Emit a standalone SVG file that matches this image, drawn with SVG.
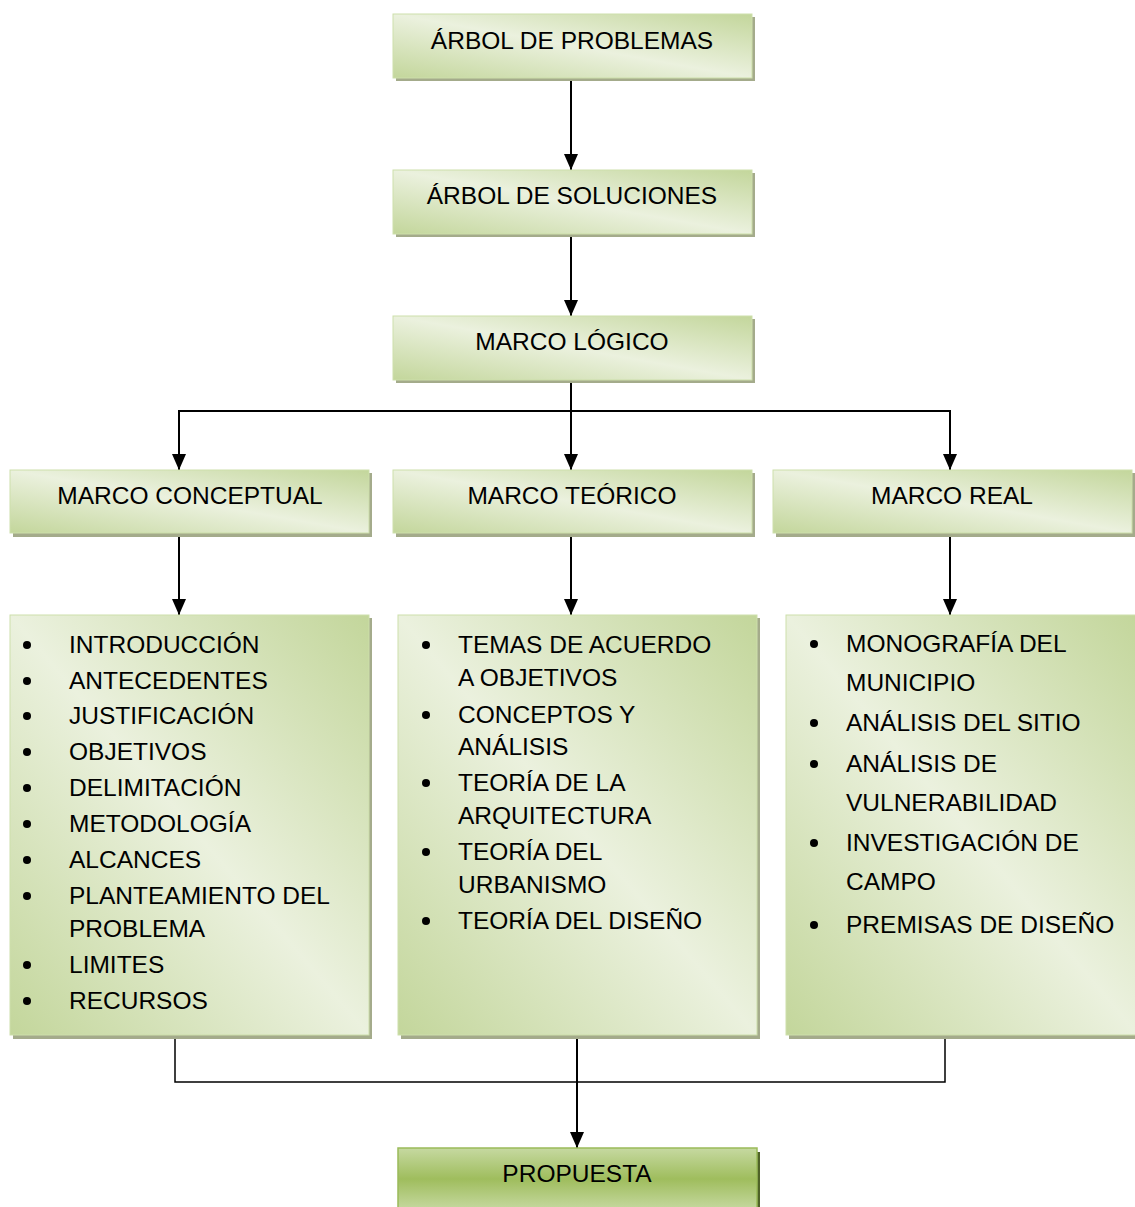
<svg xmlns="http://www.w3.org/2000/svg" width="1135" height="1207" viewBox="0 0 1135 1207">
<defs>
<linearGradient id="g" x1="0" y1="1" x2="1" y2="0">
<stop offset="0" stop-color="#c3d69b"/>
<stop offset="0.5" stop-color="#ebf1de"/>
<stop offset="1" stop-color="#c3d69b"/>
</linearGradient>
<linearGradient id="gp" x1="0" y1="0" x2="0" y2="1">
<stop offset="0" stop-color="#c6d9a1"/>
<stop offset="0.5" stop-color="#9fbd5d"/>
<stop offset="1" stop-color="#c6d9a1"/>
</linearGradient>
<marker id="arr" viewBox="0 0 16 14" refX="16" refY="7" markerWidth="16" markerHeight="14" markerUnits="userSpaceOnUse" orient="auto">
<path d="M0,0 L16,7 L0,14 z" fill="#000"/>
</marker>
<style>
.sh{fill:#a4ab8b}
.bx{fill:url(#g);stroke:#cddfab;stroke-width:1}
.bp{fill:url(#gp);stroke:#9bbb59;stroke-width:1.5}
.t{font-family:"Liberation Sans",Arial,sans-serif;font-size:24.5px;fill:#000}
.c{text-anchor:middle}
.ln{fill:none;stroke:#000;stroke-width:2}
.thin{fill:none;stroke:#000;stroke-width:1.5}
.bul{fill:#000}
</style>
</defs>

<g id="connectors">
<path class="ln" d="M571,78 V170" marker-end="url(#arr)"/>
<path class="ln" d="M571,234 V316" marker-end="url(#arr)"/>
<path class="ln" d="M571,380 V470" marker-end="url(#arr)"/>
<path class="ln" d="M179,411 H950"/>
<path class="ln" d="M179,410 V470" marker-end="url(#arr)"/>
<path class="ln" d="M950,410 V470" marker-end="url(#arr)"/>
<path class="ln" d="M179,533 V615" marker-end="url(#arr)"/>
<path class="ln" d="M571,533 V615" marker-end="url(#arr)"/>
<path class="ln" d="M950,533 V615" marker-end="url(#arr)"/>
<path class="thin" d="M175,1035 V1082 H945 V1035"/>
<path class="ln" d="M577,1035 V1148" marker-end="url(#arr)"/>
</g>

<g id="n-arbol-problemas">
<rect class="sh" x="396" y="17" width="359" height="64"/>
<rect class="bx" x="393" y="14" width="359" height="64"/>
<text class="t c" x="572" y="49">ÁRBOL DE PROBLEMAS</text>
</g>

<g id="n-arbol-soluciones">
<rect class="sh" x="396" y="173" width="359" height="64"/>
<rect class="bx" x="393" y="170" width="359" height="64"/>
<text class="t c" x="572" y="204">ÁRBOL DE SOLUCIONES</text>
</g>

<g id="n-marco-logico">
<rect class="sh" x="396" y="319" width="359" height="64"/>
<rect class="bx" x="393" y="316" width="359" height="64"/>
<text class="t c" x="572" y="350">MARCO LÓGICO</text>
</g>

<g id="n-marco-conceptual">
<rect class="sh" x="13" y="473" width="359" height="64"/>
<rect class="bx" x="10" y="470" width="359" height="63"/>
<text class="t c" x="190" y="504">MARCO CONCEPTUAL</text>
</g>

<g id="n-marco-teorico">
<rect class="sh" x="396" y="473" width="359" height="64"/>
<rect class="bx" x="393" y="470" width="359" height="63"/>
<text class="t c" x="572" y="504">MARCO TEÓRICO</text>
</g>

<g id="n-marco-real">
<rect class="sh" x="776" y="473" width="359" height="64"/>
<rect class="bx" x="773" y="470" width="359" height="63"/>
<text class="t c" x="952" y="504">MARCO REAL</text>
</g>

<g id="n-lista-conceptual">
<rect class="sh" x="13" y="618" width="359" height="421"/>
<rect class="bx" x="10" y="615" width="359" height="420"/>
<circle class="bul" cx="27" cy="645" r="4"/><text class="t" x="69" y="653">INTRODUCCIÓN</text>
<circle class="bul" cx="27" cy="681" r="4"/><text class="t" x="69" y="689">ANTECEDENTES</text>
<circle class="bul" cx="27" cy="716" r="4"/><text class="t" x="69" y="724">JUSTIFICACIÓN</text>
<circle class="bul" cx="27" cy="752" r="4"/><text class="t" x="69" y="760">OBJETIVOS</text>
<circle class="bul" cx="27" cy="788" r="4"/><text class="t" x="69" y="796">DELIMITACIÓN</text>
<circle class="bul" cx="27" cy="824" r="4"/><text class="t" x="69" y="832">METODOLOGÍA</text>
<circle class="bul" cx="27" cy="860" r="4"/><text class="t" x="69" y="868">ALCANCES</text>
<circle class="bul" cx="27" cy="896" r="4"/><text class="t" x="69" y="904">PLANTEAMIENTO DEL</text>
<text class="t" x="69" y="937">PROBLEMA</text>
<circle class="bul" cx="27" cy="965" r="4"/><text class="t" x="69" y="973">LIMITES</text>
<circle class="bul" cx="27" cy="1001" r="4"/><text class="t" x="69" y="1009">RECURSOS</text>
</g>

<g id="n-lista-teorico">
<rect class="sh" x="401" y="618" width="359" height="421"/>
<rect class="bx" x="398" y="615" width="359" height="420"/>
<circle class="bul" cx="426" cy="645" r="4"/><text class="t" x="458" y="653">TEMAS DE ACUERDO</text>
<text class="t" x="458" y="686">A OBJETIVOS</text>
<circle class="bul" cx="426" cy="715" r="4"/><text class="t" x="458" y="723">CONCEPTOS Y</text>
<text class="t" x="458" y="755">ANÁLISIS</text>
<circle class="bul" cx="426" cy="783" r="4"/><text class="t" x="458" y="791">TEORÍA DE LA</text>
<text class="t" x="458" y="824">ARQUITECTURA</text>
<circle class="bul" cx="426" cy="852" r="4"/><text class="t" x="458" y="860">TEORÍA DEL</text>
<text class="t" x="458" y="893">URBANISMO</text>
<circle class="bul" cx="426" cy="921" r="4"/><text class="t" x="458" y="929">TEORÍA DEL DISEÑO</text>
</g>

<g id="n-lista-real">
<rect class="sh" x="789" y="618" width="349" height="421"/>
<rect class="bx" x="786" y="615" width="352" height="420"/>
<circle class="bul" cx="814" cy="644" r="4"/><text class="t" x="846" y="652">MONOGRAFÍA DEL</text>
<text class="t" x="846" y="691">MUNICIPIO</text>
<circle class="bul" cx="814" cy="723" r="4"/><text class="t" x="846" y="731">ANÁLISIS DEL SITIO</text>
<circle class="bul" cx="814" cy="764" r="4"/><text class="t" x="846" y="772">ANÁLISIS DE</text>
<text class="t" x="846" y="811">VULNERABILIDAD</text>
<circle class="bul" cx="814" cy="843" r="4"/><text class="t" x="846" y="851">INVESTIGACIÓN DE</text>
<text class="t" x="846" y="890">CAMPO</text>
<circle class="bul" cx="814" cy="925" r="4"/><text class="t" x="846" y="933">PREMISAS DE DISEÑO</text>
</g>

<g id="n-propuesta">
<rect x="757" y="1152" width="3" height="55" fill="#4f6228"/>
<rect class="bp" x="398" y="1148" width="359" height="62"/>
<text class="t c" x="577" y="1182">PROPUESTA</text>
</g>
</svg>
